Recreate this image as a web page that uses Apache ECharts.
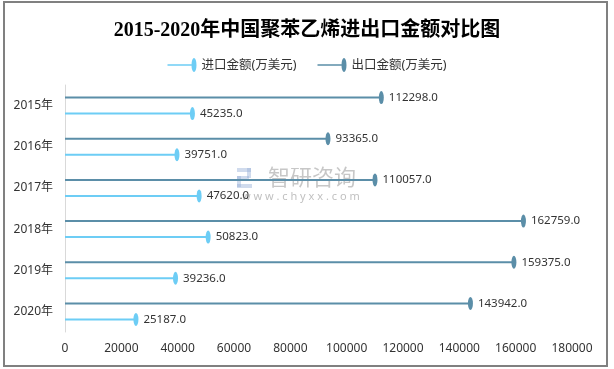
<!DOCTYPE html>
<html>
<head>
<meta charset="utf-8">
<script src="https://cdn.jsdelivr.net/npm/echarts@6/dist/echarts.min.js"></script>
<style>html,body{margin:0;padding:0;background:#fff}#c{width:614px;height:369px}</style>
</head>
<body>
<div id="c"></div>
<script>
var titleText = '2015-2020年中国聚苯乙烯进出口金额对比图';
var categories = ['2015年', '2016年', '2017年', '2018年', '2019年', '2020年'];
var importName = '进口金额(万美元)';
var exportName = '出口金额(万美元)';
var importValues = [45235, 39751, 47620, 50823, 39236, 25187];
var exportValues = [112298, 93365, 110057, 162759, 159375, 143942];
var xMin = 0, xMax = 180000, xStep = 20000;

var importColor = '#6dcdf5';
var exportColor = '#5b8ea8';
var font = '"Noto Sans", "Noto Sans CJK SC", sans-serif';

function pairs(vals) { return vals.map(function (v, i) { return [v, categories[i]]; }); }
function iconPath() { return 'path://M0,6.2 L24,6.2 L24,7.8 L0,7.8 Z M24,7 A2.5,7 0 1,1 29,7 A2.5,7 0 1,1 24,7 Z'; }

var chart = echarts.init(document.getElementById('c'));
chart.setOption({
  animation: false,
  title: {
    text: titleText, left: 'center', top: 16,
    textStyle: { fontFamily: '"Liberation Serif", "Noto Sans CJK SC", serif', fontSize: 20, fontWeight: 'bold', color: '#000' }
  },
  legend: {
    top: 53, left: 'center', itemWidth: 29, itemHeight: 14, itemGap: 21,
    textStyle: { fontFamily: font, fontSize: 12.5, color: '#333' },
    data: [
      { name: importName, icon: iconPath(), itemStyle: { color: importColor } },
      { name: exportName, icon: iconPath(), itemStyle: { color: exportColor } }
    ]
  },
  grid: { left: 65, right: 42, top: 85, bottom: 37 },
  xAxis: {
    type: 'value', min: xMin, max: xMax, interval: xStep,
    axisLine: { show: false }, axisTick: { show: false }, splitLine: { show: false },
    axisLabel: { fontFamily: font, fontSize: 12, color: '#333', margin: 11, formatter: function (v) { return String(v); } }
  },
  yAxis: {
    type: 'category', data: categories, inverse: true,
    axisLine: { show: true, lineStyle: { color: '#d9d9d9', width: 1 } },
    axisTick: { show: false },
    axisLabel: { fontFamily: font, fontSize: 12, color: '#333', margin: 12 }
  },
  series: [
    { name: exportName, type: 'bar', data: exportValues, barWidth: 2, barGap: '700%', itemStyle: { color: exportColor }, z: 2 },
    { name: importName, type: 'bar', data: importValues, barWidth: 2, barGap: '700%', itemStyle: { color: importColor }, z: 2 },
    { name: exportName, type: 'scatter', data: pairs(exportValues), symbol: 'circle', symbolSize: [5, 13], symbolOffset: [0, -8],
      itemStyle: { color: exportColor, opacity: 1 }, z: 3,
      label: { show: true, position: 'right', distance: 5, fontFamily: font, fontSize: 11.5, color: '#333',
        formatter: function (p) { return p.value[0].toFixed(1); } } },
    { name: importName, type: 'scatter', data: pairs(importValues), symbol: 'circle', symbolSize: [5, 13], symbolOffset: [0, 8],
      itemStyle: { color: importColor, opacity: 1 }, z: 3,
      label: { show: true, position: 'right', distance: 5, fontFamily: font, fontSize: 11.5, color: '#333',
        formatter: function (p) { return p.value[0].toFixed(1); } } }
  ],
  graphic: [
    { type: 'rect', shape: { x: 4, y: 2, width: 603, height: 364 }, style: { fill: 'none', stroke: '#808080', lineWidth: 2 }, z: 100, silent: true },
    { type: 'group', z: 50, silent: true, children: [
      { type: 'rect', shape: { x: 237, y: 168, width: 14, height: 4 }, style: { fill: 'rgba(150,175,215,0.45)' } },
      { type: 'rect', shape: { x: 247, y: 168, width: 4, height: 10 }, style: { fill: 'rgba(150,175,215,0.45)' } },
      { type: 'rect', shape: { x: 237, y: 176, width: 12, height: 4 }, style: { fill: 'rgba(150,175,215,0.45)' } },
      { type: 'rect', shape: { x: 237, y: 176, width: 4, height: 11 }, style: { fill: 'rgba(150,175,215,0.45)' } },
      { type: 'rect', shape: { x: 237, y: 184, width: 15, height: 4 }, style: { fill: 'rgba(150,175,215,0.45)' } },
      { type: 'text', style: { text: '智研咨询', x: 268, y: 166, font: '22px "Noto Sans CJK SC", sans-serif', fill: 'rgba(130,130,130,0.45)' } },
      { type: 'text', style: { text: 'w w w . c h y x x . c o m', x: 242, y: 191, font: '11px "Noto Sans", sans-serif', fill: 'rgba(130,130,130,0.5)' } }
    ] }
  ]
});
</script>
</body>
</html>
